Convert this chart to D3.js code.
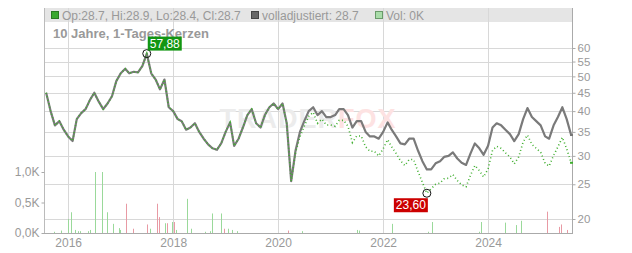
<!DOCTYPE html>
<html>
<head>
<meta charset="utf-8">
<script src="https://cdn.jsdelivr.net/npm/d3@7"></script>
<style>
  body { margin: 0; background: #fff; }
  svg { display: block; font-family: "Liberation Sans", Arial, sans-serif; }
</style>
</head>
<body>
<svg id="chart" width="632" height="253"></svg>
<script>
// monthly samples, Aug 2015 .. Aug 2025
const months = d3.range(0, 121).map(i => d3.timeMonth.offset(new Date(2015, 7, 1), i));

// "volladjustiert" (grey line)
const adjusted = [
  45, 40, 36.5, 37.5, 35.5, 34, 33, 38, 39.5, 40.5, 43, 45, 42.5, 40.5, 42, 44, 48.5,
  51, 52.5, 51, 51.5, 51.3, 53.5, 57.88, 51, 49, 46, 49, 41,
  40, 38, 37.5, 35.5, 36, 37, 35, 33.5, 32.3, 31.5, 31.2, 32.5,
  35, 37.2, 32, 33.5, 36, 39, 40.5, 37, 36, 39, 41, 42,
  40.5, 42, 37, 25.5, 31, 35, 37.5, 40, 41, 39, 40, 38.5,
  38.5, 39, 40.5, 40.5, 39, 36, 37.5, 37.5, 35, 34, 34, 33.5,
  35, 37.2, 35.5, 34, 32.5, 32.3, 33.5, 33.5, 31, 29, 27.5, 27.5,
  28.6, 29, 29.8, 30, 30.7, 29.5, 28.7, 28.3, 30.5, 32.5, 31.5, 30.2,
  32, 36, 37, 36.5, 35.5, 34.5, 33, 34.5, 38, 40.8, 38.5, 37.5,
  36.5, 34, 33.5, 36.5, 38.5, 41, 38, 34.3
];

// daily candles close (green)
const close = [
  45, 40, 36.5, 37.5, 35.5, 34, 33, 38, 39.5, 40.5, 43, 45, 42.5, 40.5, 42, 44, 48.5,
  51, 52.5, 51, 51.5, 51.3, 53.5, 57.88, 51, 49, 46, 49, 41,
  40, 38, 37.5, 35.5, 36, 37, 35, 33.5, 32.3, 31.5, 31.2, 32.5,
  35, 37.2, 32, 33.5, 36, 39, 40.5, 37, 36, 39, 41, 42,
  40.5, 42, 37, 25.5, 30.6, 33.9, 36.3, 38.7, 39.7, 37.0, 38.0, 36.6,
  36.6, 36.3, 37.7, 37.7, 36.3, 32.7, 34.1, 34.1, 31.8, 30.9, 30.9, 30.0,
  31.4, 33.3, 31.8, 30.5, 29.1, 28.2, 29.3, 29.3, 27.1, 25.3, 23.6, 24.3,
  25.0, 25.2, 25.9, 26.0, 26.6, 25.6, 24.9, 24.6, 26.5, 28.2, 27.3, 26.2,
  27.6, 31.1, 31.9, 31.5, 30.6, 29.8, 28.5, 29.8, 32.8, 34.3, 32.3, 31.5,
  30.7, 28.6, 28.1, 30.1, 31.8, 33.8, 31.4, 28.7
];

// volume in thousands, up = green, down = red
const volDates = [
  "2015-09-27", "2015-11-10", "2016-01-03", "2016-01-22", "2016-02-19", "2016-03-08",
  "2016-03-24", "2016-05-17", "2016-06-04", "2016-07-07", "2016-08-27", "2016-09-24",
  "2016-11-11", "2016-12-23", "2016-12-30", "2017-02-05", "2017-03-30", "2017-07-05",
  "2017-07-26", "2017-09-13", "2017-09-27", "2017-11-07", "2017-11-21", "2017-12-26",
  "2018-01-05", "2018-01-23", "2018-04-05", "2018-05-03", "2018-08-12", "2018-09-12",
  "2018-09-30", "2018-12-01", "2018-12-22", "2019-01-20", "2019-02-17", "2019-03-23",
  "2020-03-10", "2020-06-15", "2021-07-01", "2021-07-20", "2022-03-02", "2022-11-11",
  "2022-12-09", "2023-10-30", "2023-11-10", "2024-04-30", "2024-07-11", "2024-08-19",
  "2025-02-17", "2025-05-09", "2025-05-25", "2025-07-01"
];
const volValues = [
  0.02, 0.04, 0.23, 0.34, 0.05, 0.03, 0.03, 0.03, 0.05, 1.0, 1.0, 0.34,
  0.15, 0.08, 0.05, 0.48, 0.07, 0.14, 0.07, 0.48, 0.26, 0.16, 0.16, 0.18,
  0.18, 0.05, 0.56, 0.07, 0.02, 0.03, 0.32, 0.32, 0.07, 0.07, 0.05, 0.03,
  0.04, 0.03, 0.05, 0.04, 0.15, 0.02, 0.18, 0.02, 0.18, 0.17, 0.13, 0.2,
  0.35, 0.1, 0.14, 0.05
];
const volUp = [
  1, 1, 1, 1, 1, 1, 1, 1, 1, 1, 1, 1,
  1, 1, 1, 0, 0, 0, 1, 0, 0, 1, 0, 1,
  0, 1, 1, 1, 1, 1, 1, 1, 0, 1, 1, 1,
  0, 1, 1, 1, 1, 1, 1, 1, 1, 1, 1, 1,
  0, 0, 0, 0
];

const priceTicks = [20, 25, 30, 35, 40, 45, 50, 55, 60];
const volTicks = [0, 0.5, 1.0];
const yearTicks = [2016, 2018, 2020, 2022, 2024];

const pLeft = 44, pRight = 572, pTop = 8, pBottom = 233;

const svg = d3.select("#chart");

const x = d3.scaleTime()
  .domain([new Date(2015, 6, 17), new Date(2025, 7, 7)])
  .range([pLeft, pRight]);
const y = d3.scaleLog().domain([20, 60]).range([219, 48]);
const yv = d3.scaleLinear().domain([0, 1]).range([pBottom, 172]);

// legend band
svg.append("rect")
  .attr("x", pLeft).attr("y", pTop)
  .attr("width", pRight - pLeft).attr("height", 14)
  .attr("fill", "#e5e5e5");

// grid
svg.append("g")
  .selectAll("line")
  .data(yearTicks)
  .join("line")
  .attr("x1", d => Math.round(x(new Date(d, 0, 1))) + 0.5)
  .attr("x2", d => Math.round(x(new Date(d, 0, 1))) + 0.5)
  .attr("y1", pTop).attr("y2", pBottom)
  .attr("stroke", "#d8d8d8");

svg.append("g")
  .selectAll("line")
  .data(priceTicks)
  .join("line")
  .attr("x1", pLeft).attr("x2", pRight)
  .attr("y1", d => Math.round(y(d)) + 0.5)
  .attr("y2", d => Math.round(y(d)) + 0.5)
  .attr("stroke", "#d8d8d8");

// watermark
const wm = svg.append("text")
  .attr("x", 308).attr("y", 128)
  .attr("text-anchor", "middle")
  .style("font-size", "27px").style("font-weight", "bold")
  .style("letter-spacing", "1px");
wm.append("tspan").attr("fill", "#ececec").text("TRADER");
wm.append("tspan").attr("fill", "#fde2e2").text("FOX");

// volume bars
svg.append("g")
  .selectAll("line")
  .data(volDates)
  .join("line")
  .attr("x1", d => Math.round(x(new Date(d))) + 0.5)
  .attr("x2", d => Math.round(x(new Date(d))) + 0.5)
  .attr("y1", yv(0))
  .attr("y2", (d, i) => yv(volValues[i]))
  .attr("stroke", (d, i) => volUp[i] ? "#9ad99a" : "#e89aa4")
  .attr("stroke-width", 1);

// price lines
const line = d3.line()
  .x((d, i) => x(months[i]))
  .y(d => y(d));

svg.append("path")
  .datum(adjusted)
  .attr("d", line)
  .attr("fill", "none")
  .attr("stroke", "#7a7a7a")
  .attr("stroke-width", 2.2)
  .attr("stroke-linejoin", "round");

svg.append("path")
  .datum(close)
  .attr("d", line)
  .attr("fill", "none")
  .attr("stroke", "#3fae2e")
  .attr("stroke-width", 1.6)
  .attr("stroke-dasharray", "1,2.6");

// axes
const axisColor = "#aaa", labelColor = "#999";

svg.append("line")
  .attr("x1", pLeft + 0.5).attr("x2", pLeft + 0.5)
  .attr("y1", pTop).attr("y2", pBottom)
  .attr("stroke", "#bbb");
svg.append("line")
  .attr("x1", pRight + 0.5).attr("x2", pRight + 0.5)
  .attr("y1", pTop).attr("y2", pBottom + 1)
  .attr("stroke", axisColor);
svg.append("line")
  .attr("x1", pLeft).attr("x2", pRight + 1)
  .attr("y1", pBottom + 0.5).attr("y2", pBottom + 0.5)
  .attr("stroke", axisColor);

const rAxis = svg.append("g")
  .attr("transform", `translate(${pRight + 0.5},0)`)
  .call(d3.axisRight(y).tickValues(priceTicks).tickFormat(d3.format("d")).tickSize(3).tickPadding(2));
rAxis.select(".domain").remove();
rAxis.selectAll("line").attr("stroke", axisColor);
rAxis.selectAll("text").attr("fill", labelColor).style("font-size", "11.5px");
rAxis.attr("font-family", null);

const lAxis = svg.append("g")
  .attr("transform", `translate(${pLeft + 0.5},0)`)
  .call(d3.axisLeft(yv).tickValues(volTicks).tickFormat(d => d3.format(".1f")(d).replace(".", ",") + "K").tickSize(3).tickPadding(2));
lAxis.select(".domain").remove();
lAxis.selectAll("line").attr("stroke", axisColor);
lAxis.selectAll("text").attr("fill", labelColor).style("font-size", "12px");
lAxis.attr("font-family", null);

const xAxis = svg.append("g")
  .attr("transform", `translate(0,${pBottom + 0.5})`)
  .call(d3.axisBottom(x).tickValues(yearTicks.map(d => new Date(d, 0, 1))).tickFormat(d3.timeFormat("%Y")).tickSize(0).tickPadding(5));
xAxis.select(".domain").remove();
xAxis.selectAll("text").attr("fill", labelColor).style("font-size", "12px");
xAxis.attr("font-family", null);

// last value markers on right axis
svg.append("rect").attr("x", pRight - 2).attr("y", y(adjusted[adjusted.length - 1]) - 1)
  .attr("width", 3).attr("height", 2).attr("fill", "#777");
svg.append("rect").attr("x", pRight - 2).attr("y", y(close[close.length - 1]) - 1)
  .attr("width", 3).attr("height", 2).attr("fill", "#3fae2e");

// legend
const legend = [
  { x: 51, color: "#3aa82f", stroke: "#2b7a22", text: "Op:28.7, Hi:28.9, Lo:28.4, Cl:28.7" },
  { x: 251, color: "#666", stroke: "#444", text: "volladjustiert: 28.7" },
  { x: 375, color: "#a9dca9", stroke: "#6a9a6a", text: "Vol: 0K" }
];
const lg = svg.append("g").selectAll("g").data(legend).join("g");
lg.append("rect")
  .attr("x", d => d.x + 0.5).attr("y", 11.5)
  .attr("width", 7).attr("height", 7)
  .attr("fill", d => d.color).attr("stroke", d => d.stroke);
lg.append("text")
  .attr("x", d => d.x + 11).attr("y", 19.5)
  .attr("fill", labelColor)
  .style("font-size", "12px")
  .text(d => d.text);

// title
svg.append("text")
  .attr("x", 53).attr("y", 38)
  .attr("fill", "#999")
  .style("font-size", "13px").style("font-weight", "bold")
  .text("10 Jahre, 1-Tages-Kerzen");

// high / low markers
const hiIdx = d3.maxIndex(close), loIdx = d3.minIndex(close);
const fmt = v => d3.format(".2f")(v).replace(".", ",");

function marker(i, color, dx, dy, anchorRight) {
  const cx = x(months[i]), cy = y(close[i]);
  svg.append("circle").attr("cx", cx).attr("cy", cy).attr("r", 4)
    .attr("fill", "none").attr("stroke", "#111").attr("stroke-width", 1);
  const w = 34, h = 14;
  const bx = anchorRight ? cx + dx - w : cx + dx;
  const by = cy + dy;
  svg.append("rect").attr("x", bx).attr("y", by).attr("width", w).attr("height", h).attr("fill", color);
  svg.append("text").attr("x", bx + w / 2).attr("y", by + 11)
    .attr("text-anchor", "middle").attr("fill", "#fff")
    .style("font-size", "12px").text(fmt(close[i]));
}
marker(hiIdx, "#129612", 1, -17, false);
marker(loIdx, "#cc0000", 1, 5, true);
</script>
</body>
</html>
